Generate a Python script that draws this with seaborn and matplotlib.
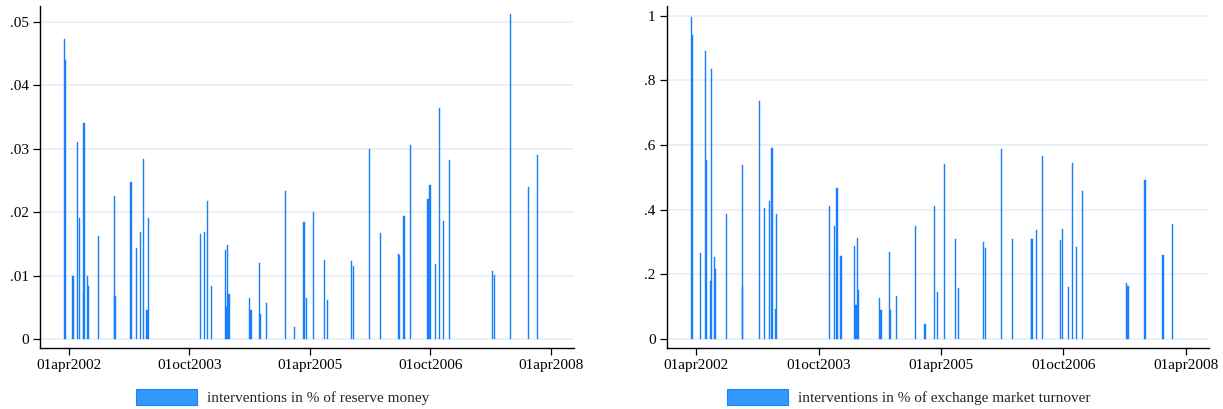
import pandas as pd
import numpy as np
import matplotlib
matplotlib.use("Agg")
import matplotlib.pyplot as plt
from matplotlib.patches import Patch
import seaborn as sns

# intervention dates and the two measures
dates = ["2002-03-10", "2002-03-16", "2002-04-19", "2002-05-11", "2002-05-18",
         "2002-06-05", "2002-06-08", "2002-06-23", "2002-06-28", "2002-08-14",
         "2002-10-24", "2002-10-27", "2003-01-08", "2003-02-02", "2003-02-22",
         "2003-03-07", "2003-03-22", "2003-03-27", "2003-11-21", "2003-12-10",
         "2003-12-23", "2004-01-10", "2004-03-11", "2004-03-17", "2004-03-24",
         "2004-03-29", "2004-07-02", "2004-07-07", "2004-08-13", "2004-08-18",
         "2004-09-16", "2004-12-10", "2005-01-20", "2005-03-05", "2005-03-16",
         "2005-04-16", "2005-06-07", "2005-06-19", "2005-10-07", "2005-10-16",
         "2005-12-29", "2006-02-17", "2006-05-10", "2006-05-14", "2006-06-03",
         "2006-07-02", "2006-09-20", "2006-09-29", "2006-10-26", "2006-11-10",
         "2006-11-29", "2006-12-28", "2007-07-12", "2007-07-18", "2007-10-02",
         "2007-12-22", "2008-02-01"]

reserve_money = [.0473, .044, .010, .031, .019, .0072, .034, .010, .0084, .0162,
                 .0225, .0068, .0247, .0143, .0169, .0284, .0046, .019, .0166, .0168,
                 .0217, .0083, .014, .005, .0148, .0071, .0064, .0045, .012, .004,
                 .0056, .0234, .0019, .0184, .0064, .0201, .0124, .0062, .0123, .0115,
                 .030, .0167, .0134, .0133, .0194, .0306, .022, .0243, .0118, .0364,
                 .0186, .0282, .0107, .0101, .0512, .0239, .029]

turnover = [.995, .94, .265, .89, .553, .18, .835, .253, .215, .387,
            .537, .16, .735, .405, .426, .59, .093, .388, .41, .348,
            .467, .256, .289, .105, .312, .15, .126, .09, .268, .09,
            .132, .35, .046, .41, .144, .542, .31, .157, .299, .28,
            .588, .31, .31, .308, .337, .566, .305, .339, .161, .544,
            .284, .457, .172, .165, .491, .259, .355]

x_ticks = ["2002-04-01", "2003-10-01", "2005-04-01", "2006-10-01", "2008-04-01"]
x_labels = ["01apr2002", "01oct2003", "01apr2005", "01oct2006", "01apr2008"]

df = pd.DataFrame({"date": pd.to_datetime(dates),
                   "reserve": reserve_money,
                   "turnover": turnover})

sns.set_theme(style="white")
plt.rcParams["font.family"] = ["Liberation Serif", "DejaVu Serif"]

bar_col = "#1a7fff"
grid_col = "#eaf1f2"

fig = plt.figure(figsize=(12.23, 4.09), dpi=100)
ax1 = fig.add_axes([0.0327, 0.1491, 0.4366, 0.8362])
ax2 = fig.add_axes([0.5451, 0.1491, 0.4435, 0.8362])

panels = [
    (ax1, "reserve", [0, .01, .02, .03, .04, .05], ["0", ".01", ".02", ".03", ".04", ".05"],
     (-0.00142, 0.0525), "interventions in % of reserve money", 0.231),
    (ax2, "turnover", [0, .2, .4, .6, .8, 1], ["0", ".2", ".4", ".6", ".8", "1"],
     (-0.028, 1.03), "interventions in % of exchange market turnover", 0.743),
]

for ax, col, yt, ylab, ylim, leg_text, leg_x in panels:
    ax.bar(df["date"], df[col], width=5, color=bar_col, edgecolor=bar_col,
           linewidth=0.3, zorder=3)
    ax.set_xlim(pd.Timestamp("2001-11-20"), pd.Timestamp("2008-07-15"))
    ax.set_ylim(*ylim)
    ax.set_yticks(yt)
    ax.set_yticklabels(ylab)
    ax.set_xticks(pd.to_datetime(x_ticks))
    ax.set_xticklabels(x_labels)
    ax.yaxis.grid(True, color=grid_col, linewidth=1.3, zorder=0)
    ax.xaxis.grid(False)
    sns.despine(ax=ax)
    for s in ["left", "bottom"]:
        ax.spines[s].set_color("black")
        ax.spines[s].set_linewidth(1.0)
    ax.tick_params(axis="both", which="major", direction="out", length=5,
                   width=0.9, color="black", labelsize=11, labelcolor="black",
                   left=True, bottom=True, pad=3)
    ax.set_xlabel("")
    ax.set_ylabel("")
    handle = Patch(facecolor="#3399ff", edgecolor="#1a80ff", linewidth=0.8)
    fig.legend(handles=[handle], labels=[leg_text], loc="center",
               bbox_to_anchor=(leg_x, 0.029), frameon=False, fontsize=11,
               handlelength=4.0, handleheight=1.2, handletextpad=0.6)

fig.savefig("out.png", dpi=100, facecolor="white")
